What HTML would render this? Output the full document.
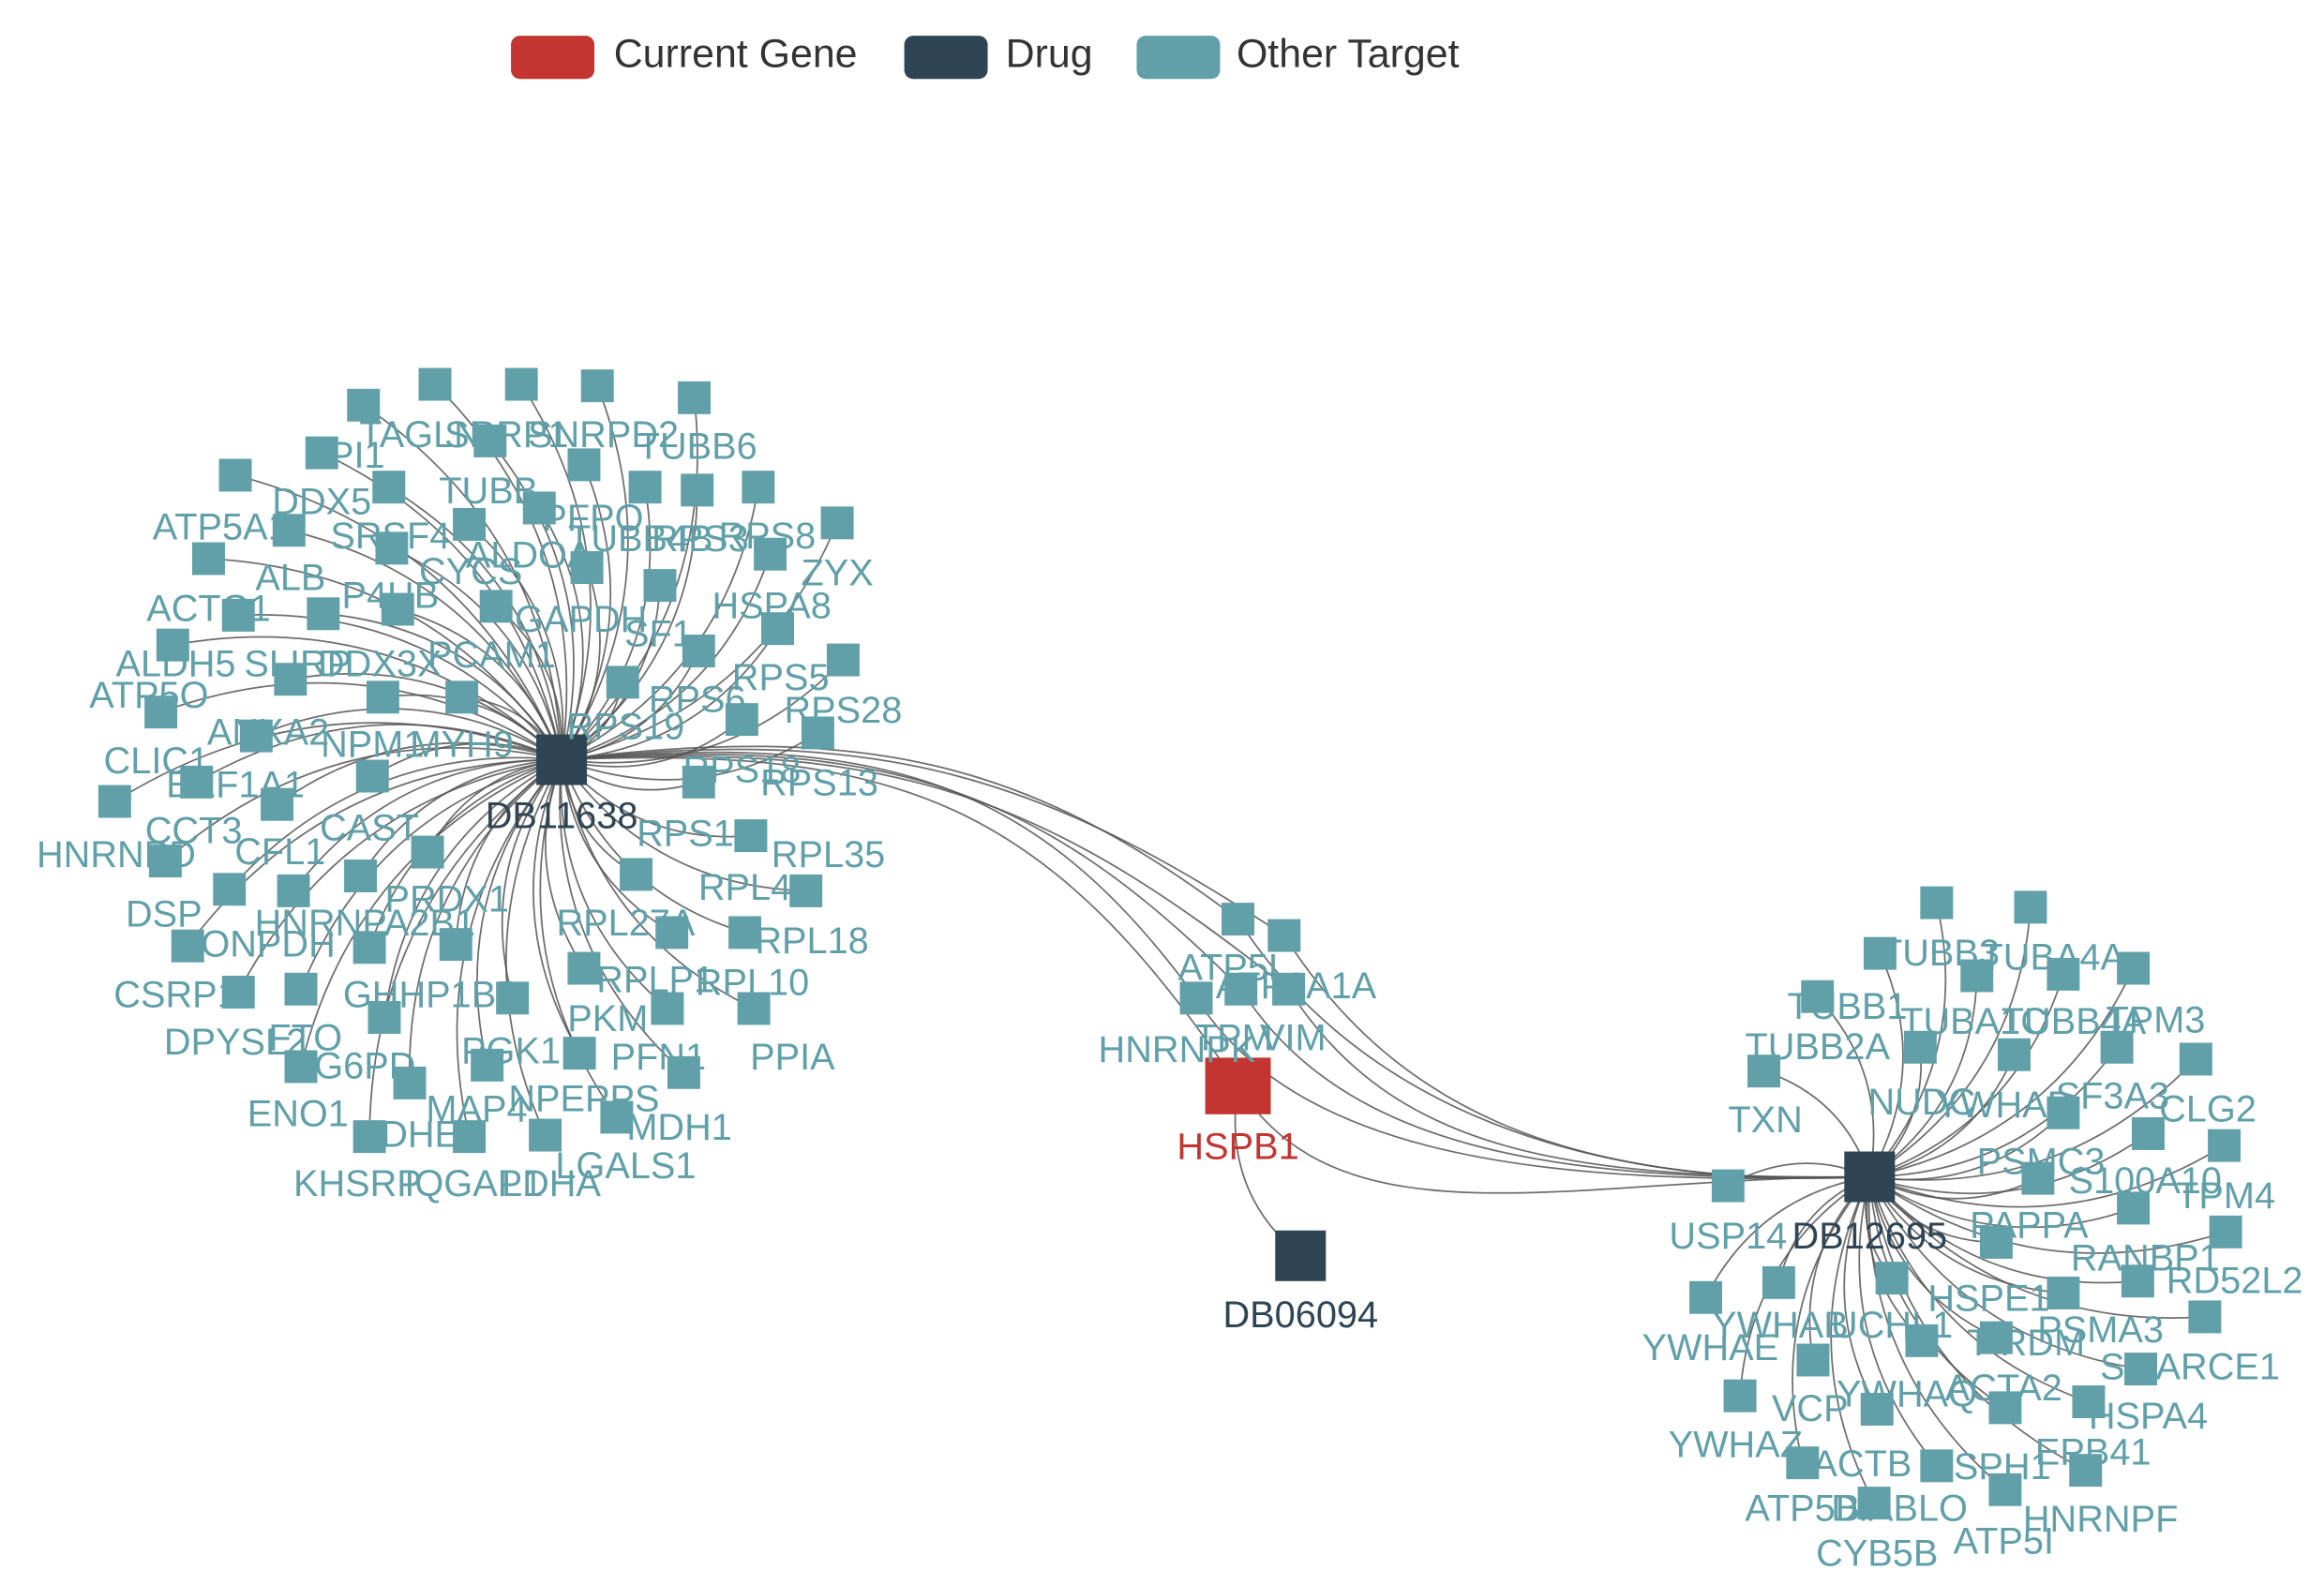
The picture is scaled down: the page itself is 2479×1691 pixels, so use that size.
<!DOCTYPE html>
<html><head><meta charset="utf-8"><style>
html,body{margin:0;padding:0;background:#fff;}
svg{display:block;}
text{font-family:"Liberation Sans",sans-serif;}
</style></head><body>
<svg id="s" width="2479" height="1691" viewBox="0 0 1560 1064" preserveAspectRatio="none" xmlns="http://www.w3.org/2000/svg">
<rect x="343" y="24" width="56" height="29" rx="6" fill="#c23531"/>
<text x="412" y="45" font-size="27" fill="#333">Current Gene</text>
<rect x="607" y="24" width="56" height="29" rx="6" fill="#2f4554"/>
<text x="675" y="45" font-size="27" fill="#333">Drug</text>
<rect x="763" y="24" width="56" height="29" rx="6" fill="#61a0a8"/>
<text x="830" y="45" font-size="27" fill="#333">Other Target</text>
<g id="e" fill="none" stroke="#555" stroke-width="1.1" stroke-opacity="0.85"></g>
<g id="n"></g>
<g id="l" font-size="25" text-anchor="middle"></g>
</svg>
<script>
var NS="http://www.w3.org/2000/svg";
var H1=[377,510],H2=[1255,790];
var L=[[292,258],[350,258],[401,259],[466,267],[244,272],[216,304],[261,327],[329,296],[392,312],[433,327],[468,329],[509,327],[158,319],[562,351],[194,356],[315,352],[362,341],[263,368],[517,372],[140,375],[394,381],[443,393],[217,412],[160,413],[267,409],[333,407],[522,422],[116,433],[469,437],[566,443],[195,456],[257,468],[310,468],[418,458],[498,483],[549,492],[108,478],[172,494],[250,521],[132,525],[469,525],[77,538],[186,540],[287,572],[504,561],[111,578],[242,588],[154,597],[197,598],[427,587],[541,598],[306,634],[451,626],[500,626],[126,635],[248,636],[392,650],[160,666],[202,664],[344,670],[506,677],[448,677],[258,683],[389,707],[327,715],[459,720],[202,716],[275,727],[248,763],[315,763],[366,762],[414,750]];
var R=[[1300,606],[1363,609],[1262,640],[1327,655],[1385,654],[1432,650],[1220,669],[1289,703],[1352,708],[1421,703],[1474,711],[1184,719],[1385,747],[1442,761],[1493,769],[1160,796],[1368,791],[1432,811],[1494,827],[1340,834],[1385,868],[1435,860],[1270,858],[1194,861],[1145,871],[1480,884],[1290,900],[1217,913],[1340,898],[1437,919],[1168,937],[1260,946],[1346,945],[1402,941],[1210,982],[1300,984],[1400,987],[1258,1009],[1346,1000]];
var M=[[831,617],[862,628],[803,670],[833,664],[865,664],[831,729]];
var e=document.getElementById('e'),n=document.getElementById('n'),l=document.getElementById('l');
function path(d){var p=document.createElementNS(NS,'path');p.setAttribute('d',d);e.appendChild(p);}
function curve(a,b,c){var mx=(a[0]+b[0])/2,my=(a[1]+b[1])/2,dx=b[0]-a[0],dy=b[1]-a[1];
 var cx=mx-dy*c,cy=my+dx*c;path('M'+a[0]+' '+a[1]+' Q'+cx+' '+cy+' '+b[0]+' '+b[1]);}
L.forEach(function(p){curve(H1,p,0.25);});
R.forEach(function(p){curve(H2,p,0.25);});
M.forEach(function(p,i){
 path('M377 510 C '+(580+i*5)+' '+(485+i*3)+' '+(690+i*3)+' '+(510+i*6)+' '+p[0]+' '+p[1]);
 path('M'+p[0]+' '+p[1]+' C '+(p[0]+70)+' '+(p[1]+110)+' '+(1040+i*3)+' '+(800-i*2)+' 1255 790');
});
path('M831 729 Q 820 800 873 843');
function rect(x,y,w,h,f){var r=document.createElementNS(NS,'rect');r.setAttribute('x',x-w/2);r.setAttribute('y',y-h/2);r.setAttribute('width',w);r.setAttribute('height',h);r.setAttribute('fill',f);n.appendChild(r);}
L.concat(R).concat(M.slice(0,5)).forEach(function(p){rect(p[0],p[1],22,22,'#61a0a8');});
rect(377,510,34,34,'#2f4554');rect(1255,790,34,34,'#2f4554');rect(873,843,34,34,'#2f4554');
rect(831,729,44,38,'#c23531');
var T=[["TAGLN",282,300],["SRRP1",340,300],["SNRPD2",405,300],["TUBB6",468,308],["TPI1",232,314],["DDX5",216,345],["TUBB",328,338],["PFPO",398,356],["ATP5A1",148,362],["SRSF4",262,368],["TUBB4B",430,370],["RPS3",470,370],["RPS8",515,368],["ALDOA",355,381],["CYCS",316,392],["ZYX",562,393],["ALB",195,396],["P4HB",262,408],["HSPA8",518,415],["ACTG1",140,417],["GAPDH",390,424],["SF1",442,434],["ALDH5",118,454],["SLIRP",200,454],["DDX3X",255,454],["PCAM1",330,448],["RPS5",524,463],["ATP5O",100,475],["RPS6",468,478],["RPS28",566,485],["ANXA2",180,500],["NPM1",250,508],["MYH9",310,508],["RPS19",420,496],["CLIC1",105,519],["EEF1A1",158,535],["RPS18",498,525],["RPS13",550,534],["CCT3",130,566],["CAST",248,564],["HNRNPD",78,582],["CFL1",188,580],["RPS1",460,568],["RPL35",556,582],["PRDX1",300,612],["RPL4",500,604],["DSP",110,622],["HNRNPA2B1",245,628],["ONPDH",180,642],["RPL27A",420,628],["RPL18",545,640],["CSRP1",118,676],["GHHP1BP",290,676],["RPLP1",440,666],["RPL10",505,668],["DPYSL2",158,708],["FTO",205,705],["PKM",408,692],["G6PD",245,724],["PGK1",343,714],["PFN1",442,718],["PPIA",532,718],["ENO1",200,756],["MAP4",320,753],["NPEPPS",392,746],["MDH1",456,765],["DHE",282,770],["KHSRP",240,803],["IQGAP1",318,803],["LDHA",370,803],["LGALS1",420,791],
["ATP5L",828,658],["ATP1A1A",870,670],["HNRNPK",790,713],["TPM",828,705],["VIM",868,705],
["TUBB3",1302,648],["TUBA4A",1378,651],["TUBB1",1240,684],["TUBA1C",1325,694],["TUBB4A",1392,694],["TPM3",1447,693],["TUBB2A",1220,711],["TXN",1185,760],["NUDC",1290,748],["YWHAB",1345,750],["SF3A3",1418,744],["CLG2",1482,753],["PSMC3",1370,788],["S100A10",1440,801],["TPM4",1494,811],["USP14",1160,838],["PAPPA",1362,831],["RANBP1",1440,853],["RD52L2",1500,868],["HSPE1",1335,880],["YWHAB",1195,898],["YWHAE",1148,913],["UCHL1",1270,898],["PSMA3",1410,901],["T-RDM",1360,910],["SMARCE1",1470,926],["YWHAQ",1280,944],["ACTA2",1345,940],["VCP",1215,954],["HSPA4",1442,959],["YWHAZ",1165,978],["ACTB",1250,991],["HSPH1",1335,993],["EPB41",1405,983],["ATP5B",1210,1021],["DIABLO",1275,1021],["HNRNPF",1410,1028],["CYB5B",1260,1051],["ATP5I",1345,1043]];
function txt(s,x,y,c){var t=document.createElementNS(NS,'text');t.setAttribute('x',x);t.setAttribute('y',y);t.setAttribute('fill',c);t.textContent=s;l.appendChild(t);}
T.forEach(function(a){txt(a[0],a[1],a[2],'#61a0a8');});
txt("DB11638",377,556,'#2f4554');txt("DB12695",1255,838,'#2f4554');txt("DB06094",873,891,'#2f4554');txt("HSPB1",831,778,'#c23531');
</script>
</body></html>
